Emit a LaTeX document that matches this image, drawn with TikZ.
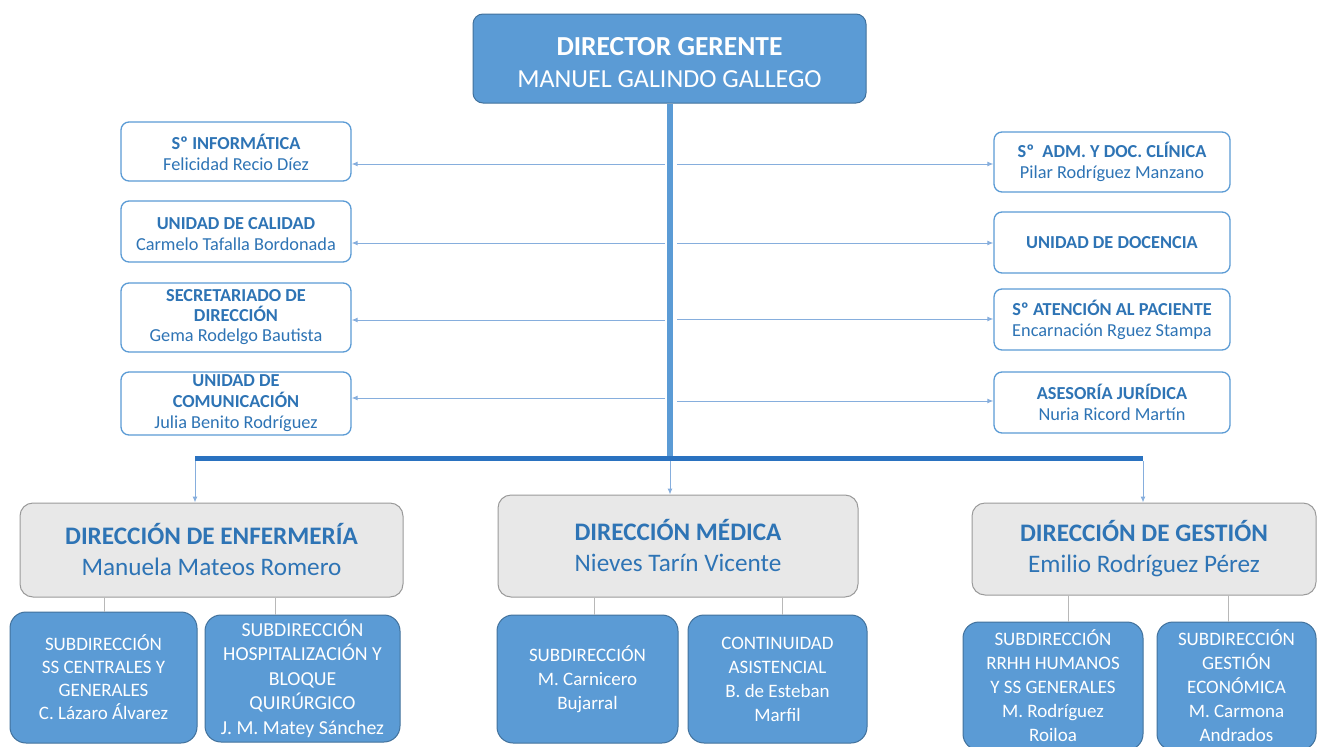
\documentclass[tikz,border=0pt]{standalone}
\usepackage{fontspec}
\setmainfont{Carlito}
\usetikzlibrary{arrows.meta}
\definecolor{mblue}{HTML}{5B9BD5}
\definecolor{mborder}{HTML}{41719C}
\definecolor{bar}{HTML}{2A72C0}
\definecolor{thin}{HTML}{86AEDD}
\definecolor{tblue}{HTML}{2E74B5}
\definecolor{gfill}{HTML}{E8E8E8}
\definecolor{gborder}{HTML}{9A9A9A}
\tikzset{
  topbox/.style={draw=mborder, line width=1pt, fill=mblue, rounded corners=10pt, text=white, align=center, inner sep=0pt, font=\fontsize{26}{32}\selectfont},
  smallbox/.style={draw=mblue, line width=1.3pt, fill=white, rounded corners=8pt, text=tblue, align=center, inner sep=0pt, font=\fontsize{18.3}{21}\selectfont},
  graybox/.style={draw=gborder, line width=1pt, fill=gfill, rounded corners=13pt, text=tblue, align=center, inner sep=0pt, font=\fontsize{25.2}{31}\selectfont},
  subbox/.style={draw=mborder, line width=1pt, fill=mblue, rounded corners=16pt, text=white, align=center, inner sep=0pt, font=\fontsize{19}{24}\selectfont},
  arr/.style={draw=thin, line width=1pt, -{Latex[length=6pt,width=5pt]}},
  conn/.style={draw=gborder!70, line width=0.8pt},
}
\begin{document}
\begin{tikzpicture}[x=1pt,y=-1pt]
\useasboundingbox (0,0) rectangle (1320,747);
% top
\node[topbox, minimum width=393pt, minimum height=89pt] (top) at (669.5,58.5)
  {\rule{0pt}{27pt}{\fontsize{27.5}{32}\selectfont\bfseries DIRECTOR GERENTE}\\MANUEL GALINDO GALLEGO};
% left boxes
\node[smallbox, minimum width=230pt, minimum height=59pt] (L1) at (236,151.5) {\rule{0pt}{18pt}\textbf{Sº INFORMÁTICA}\\Felicidad Recio Díez};
\node[smallbox, minimum width=230pt, minimum height=61pt] (L2) at (236,231.5) {\rule{0pt}{18pt}\textbf{UNIDAD DE CALIDAD}\\Carmelo Tafalla Bordonada};
\node[smallbox, minimum width=230pt, minimum height=69pt, font=\fontsize{18.3}{20}\selectfont] (L3) at (236,317.5) {\textbf{SECRETARIADO DE}\\\textbf{DIRECCIÓN}\\Gema Rodelgo Bautista};
\node[smallbox, minimum width=230pt, minimum height=63pt] (L4) at (236,403.5) {\textbf{UNIDAD DE}\\\textbf{COMUNICACIÓN}\\Julia Benito Rodríguez};
% right boxes
\node[smallbox, minimum width=236pt, minimum height=60pt] (R1) at (1112,162) {\textbf{Sº\ \ ADM. Y DOC. CLÍNICA}\\Pilar Rodríguez Manzano};
\node[smallbox, minimum width=236pt, minimum height=61pt] (R2) at (1112,242.5) {\textbf{UNIDAD DE DOCENCIA}};
\node[smallbox, minimum width=236pt, minimum height=61pt] (R3) at (1112,319.5) {\textbf{Sº ATENCIÓN AL PACIENTE}\\Encarnación Rguez Stampa};
\node[smallbox, minimum width=236pt, minimum height=61pt] (R4) at (1112,402.5) {\textbf{ASESORÍA JURÍDICA}\\Nuria Ricord Martín};
% trunk and bar
\coordinate (tb) at (670,458);
\coordinate (bl) at (195,458);
\coordinate (br) at (1143,458);
% thin arrows
\coordinate (a1) at (665,164); \coordinate (b1) at (677,164);
\coordinate (a2) at (665,243); \coordinate (b2) at (677,243);
\coordinate (a3) at (665,320); \coordinate (b3) at (677,319);
\coordinate (a4) at (665,398); \coordinate (b4) at (677,401);
\draw[arr] (a1) -- (a1 -| L1.east);
\draw[arr] (a2) -- (a2 -| L2.east);
\draw[arr] (a3) -- (a3 -| L3.east);
\draw[arr] (a4) -- (a4 -| L4.east);
\draw[arr] (b1) -- (b1 -| R1.west);
\draw[arr] (b2) -- (b2 -| R2.west);
\draw[arr] (b3) -- (b3 -| R3.west);
\draw[arr] (b4) -- (b4 -| R4.west);
\draw[mblue, line width=6pt] (top.south -| tb) -- (tb);
\draw[bar, line width=5pt] (bl) -- (br);
% gray boxes
\node[graybox, minimum width=383pt, minimum height=94pt] (E) at (211.5,550) {\textbf{DIRECCIÓN DE ENFERMERÍA}\\Manuela Mateos Romero};
\node[graybox, minimum width=360pt, minimum height=102pt] (M) at (678,546) {\textbf{DIRECCIÓN MÉDICA}\\Nieves Tarín Vicente};
\node[graybox, minimum width=344pt, minimum height=92pt] (G) at (1144,549) {\textbf{DIRECCIÓN DE GESTIÓN}\\Emilio Rodríguez Pérez};
\draw[arr] ([yshift=-2.5pt]bl) -- (bl |- E.north);
\draw[arr] ([yshift=-2.5pt]tb) -- (tb |- M.north);
\draw[arr] ([yshift=-2.5pt]br) -- (br |- G.north);
% sub boxes
\node[subbox, minimum width=187pt, minimum height=131pt, font=\fontsize{19}{23}\selectfont] (E1) at (103.5,677.5) {SUBDIRECCIÓN\\SS CENTRALES Y\\GENERALES\\C. Lázaro Álvarez};
\node[subbox, minimum width=195pt, minimum height=127pt, font=\fontsize{19.8}{24.5}\selectfont] (E2) at (302.5,678.5) {SUBDIRECCIÓN\\HOSPITALIZACIÓN Y\\BLOQUE\\QUIRÚRGICO\\J. M. Matey Sánchez};
\node[subbox, minimum width=181pt, minimum height=128pt] (M1) at (587.5,679) {SUBDIRECCIÓN\\M. Carnicero\\Bujarral};
\node[subbox, minimum width=179pt, minimum height=128pt] (M2) at (777.5,679) {CONTINUIDAD\\ASISTENCIAL\\B. de Esteban\\Marfil};
\node[subbox, minimum width=180pt, minimum height=128pt] (G1) at (1053,686) {SUBDIRECCIÓN\\RRHH HUMANOS\\Y SS GENERALES\\M. Rodríguez\\Roiloa};
\node[subbox, minimum width=159pt, minimum height=128pt] (G2) at (1236.5,686) {SUBDIRECCIÓN\\GESTIÓN\\ECONÓMICA\\M. Carmona\\Andrados};
% connectors
\coordinate (cE1) at (104,0); \coordinate (cE2) at (275,0);
\coordinate (cM1) at (594,0); \coordinate (cM2) at (782,0);
\coordinate (cG1) at (1068,0); \coordinate (cG2) at (1228,0);
\draw[conn] (E.south -| cE1) -- (E1.north -| cE1);
\draw[conn] (E.south -| cE2) -- (E2.north -| cE2);
\draw[conn] (M.south -| cM1) -- (M1.north -| cM1);
\draw[conn] (M.south -| cM2) -- (M2.north -| cM2);
\draw[conn] (G.south -| cG1) -- (G1.north -| cG1);
\draw[conn] (G.south -| cG2) -- (G2.north -| cG2);
\end{tikzpicture}
\end{document}
